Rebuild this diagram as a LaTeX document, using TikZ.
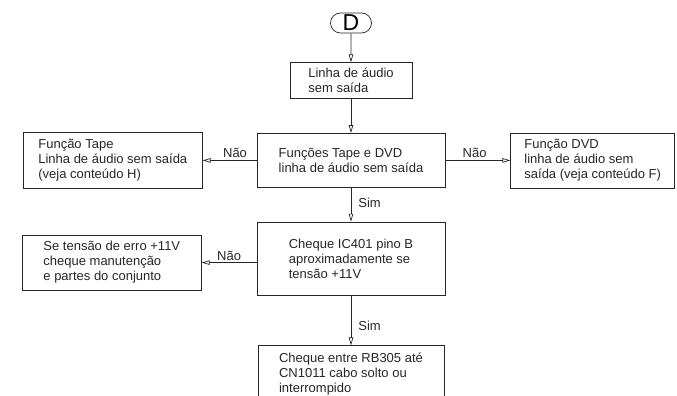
\documentclass[tikz,border=0pt]{standalone}
\usepackage{fontspec}
\setmainfont{Liberation Sans}
\usetikzlibrary{shapes.geometric, shapes.misc, arrows, arrows.meta, calc, positioning}
\tikzstyle{terminal} = [rounded rectangle, draw=black!85, line width=0.7pt, minimum width=41pt, minimum height=20pt, inner sep=0pt, font=\fontsize{23}{23}\selectfont]
\tikzstyle{block} = [rectangle, draw=black!85, line width=0.7pt, align=left, text=black!85]
\tikzstyle{arrow} = [line width=0.7pt, draw=black!85, -{Triangle[open, length=8pt, width=4.5pt]}]
\tikzstyle{answer} = [text=black!85, inner sep=2pt]

\begin{document}
\begin{tikzpicture}[x=1pt, y=-1pt, font=\fontsize{13}{15}\selectfont]
		\useasboundingbox (0,0) rectangle (677,396);
		\node (Start) [terminal] at (351,23) {D};
		\node (Line) [block, minimum width=122pt, minimum height=36pt, below = 29pt of Start] {Linha de áudio\\sem saída};
		\node (Functions) [block, minimum width=188pt, minimum height=54pt, below = 34pt of Line] {Funções Tape e DVD\\linha de áudio sem saída};
		\node (TapeFunc) [block, minimum width=179pt, minimum height=56pt, left = 54pt of Functions] {Função Tape\\Linha de áudio sem saída\\(veja conteúdo H)};
		\node (DvdFunc) [block, minimum width=164pt, minimum height=55pt, right = 65pt of Functions] {Função DVD\\linha de áudio sem\\saída (veja conteúdo F)};
		\node (CheckIC) [block, minimum width=188pt, minimum height=73pt, below = 34pt of Functions] {Cheque IC401 pino B\\aproximadamente se\\tensão +11V};
		\node (ErrorVolt) [block, minimum width=179pt, minimum height=55pt, left = 55pt of CheckIC, yshift=-4pt] {Se tensão de erro +11V\\cheque manutenção\\e partes do conjunto};
		\node (Cable) [block, minimum width=186pt, minimum height=57pt, below = 50pt of CheckIC] {Cheque entre RB305 até\\CN1011 cabo solto ou\\interrompido};
		\draw [arrow] (Start) -- (Line);
		\draw [arrow] (Line) -- (Functions);
		\draw [arrow] (Functions) -- node[answer, above, pos=0.4]{Não}(TapeFunc);
		\draw [arrow] (Functions) -- node[answer, above, pos=0.45]{Não}(DvdFunc);
		\draw [arrow] (Functions) -- node[answer, right, pos=0.45, xshift=5pt]{Sim}(CheckIC);
		\draw [arrow] (CheckIC.west |- ErrorVolt.east) -- node[answer, above, pos=0.5]{Não}(ErrorVolt.east);
		\draw [arrow] (CheckIC) -- node[answer, right, pos=0.6, xshift=5pt]{Sim}(Cable);
\end{tikzpicture}
\end{document}
